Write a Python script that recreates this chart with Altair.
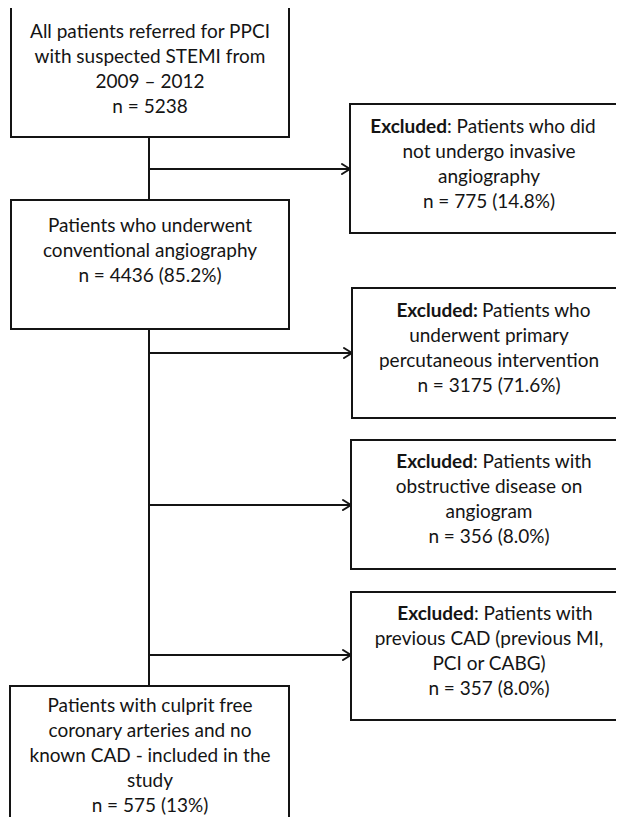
import altair as alt
import pandas as pd

# ---------------- content ----------------
main_texts = [
    ["All patients referred for PPCI", "with suspected STEMI from", "2009 \u2013 2012", "n = 5238"],
    ["Patients who underwent", "conventional angiography", "n = 4436 (85.2%)"],
    ["Patients with culprit free", "coronary arteries and no", "known CAD - included in the", "study", "n = 575 (13%)"],
]
excl_bold = ["Excluded", "Excluded:", "Excluded", "Excluded"]
excl_first = [": Patients who did", "Patients who", ": Patients with", ": Patients with"]
excl_rest = [
    ["not undergo invasive", "angiography", "n = 775 (14.8%)"],
    ["underwent primary", "percutaneous intervention", "n = 3175 (71.6%)"],
    ["obstructive disease on", "angiogram", "n = 356 (8.0%)"],
    ["previous CAD (previous MI,", "PCI or CABG)", "n = 357 (8.0%)"],
]

# ---------------- layout (reference pixel coordinates) ----------------
main_boxes = [(11, 289, 7, 137), (11, 289, 200, 329), (10, 289, 686, 840)]
main_first_y = [32, 226, 706]
main_cx = 150
excl_boxes = [(350, 640, 104, 233), (352, 640, 288, 418), (351, 640, 440, 569), (351, 640, 592, 720)]
excl_first_y = [127, 311, 462, 614]
excl_split = [447, 478, 473, 474]
excl_gap = [0, 4, 0, 0]
excl_cx = 489
line_step = 25
stem_x = 149
branch_y = [169, 353, 505, 655]
tip_x = [350, 352, 351, 351]

W, H = 608, 809
FONT = "Lato"
FS = 19
INK = "#141414"

boxes = pd.DataFrame(
    [dict(x=a, x2=b, y=c, y2=d) for (a, b, c, d) in main_boxes + excl_boxes]
)

segs = [dict(x=stem_x, x2=stem_x, y=137, y2=200), dict(x=stem_x, x2=stem_x, y=329, y2=686)]
for by, tx in zip(branch_y, tip_x):
    segs.append(dict(x=stem_x, x2=tx, y=by, y2=by))
    segs.append(dict(x=tx - 8, x2=tx, y=by - 5, y2=by))
    segs.append(dict(x=tx - 8, x2=tx, y=by + 5, y2=by))
segs = pd.DataFrame(segs)

center_rows = []
for lines, y0 in zip(main_texts, main_first_y):
    for i, t in enumerate(lines):
        center_rows.append(dict(x=main_cx, y=y0 + i * line_step, t=t))
for lines, y0 in zip(excl_rest, excl_first_y):
    for i, t in enumerate(lines):
        center_rows.append(dict(x=excl_cx, y=y0 + (i + 1) * line_step, t=t))
center_df = pd.DataFrame(center_rows)

bold_df = pd.DataFrame([dict(x=s, y=y0, t=b) for b, s, y0 in zip(excl_bold, excl_split, excl_first_y)])
reg_df = pd.DataFrame([dict(x=s + g, y=y0, t=r) for r, s, g, y0 in zip(excl_first, excl_split, excl_gap, excl_first_y)])

xs = alt.Scale(domain=[8, 8 + W], nice=False, zero=False)
ys = alt.Scale(domain=[8, 8 + H], nice=False, zero=False, reverse=True)


def X(f="x"):
    return alt.X(f"{f}:Q", scale=xs, axis=None)


def Y(f="y"):
    return alt.Y(f"{f}:Q", scale=ys, axis=None)


rect_layer = alt.Chart(boxes).mark_rect(
    fill="white", stroke=INK, strokeWidth=2, clip=True
).encode(x=X(), x2="x2:Q", y=Y(), y2="y2:Q")

rule_layer = alt.Chart(segs).mark_rule(
    color=INK, strokeWidth=2, clip=True, strokeCap="round"
).encode(x=X(), x2="x2:Q", y=Y(), y2="y2:Q")

txt_center = alt.Chart(center_df).mark_text(
    font=FONT, fontSize=FS, color=INK, align="center", baseline="middle"
).encode(x=X(), y=Y(), text="t:N")

txt_bold = alt.Chart(bold_df).mark_text(
    font=FONT, fontSize=FS, color=INK, align="right", baseline="middle", fontWeight="bold"
).encode(x=X(), y=Y(), text="t:N")

txt_reg = alt.Chart(reg_df).mark_text(
    font=FONT, fontSize=FS, color=INK, align="left", baseline="middle"
).encode(x=X(), y=Y(), text="t:N")

chart = alt.layer(rule_layer, rect_layer, txt_center, txt_bold, txt_reg).properties(
    width=W, height=H, padding=0, autosize=alt.AutoSizeParams(type="none")
).configure_view(stroke=None)

chart.save("out.html", embed_options={"renderer": "svg", "actions": False})
